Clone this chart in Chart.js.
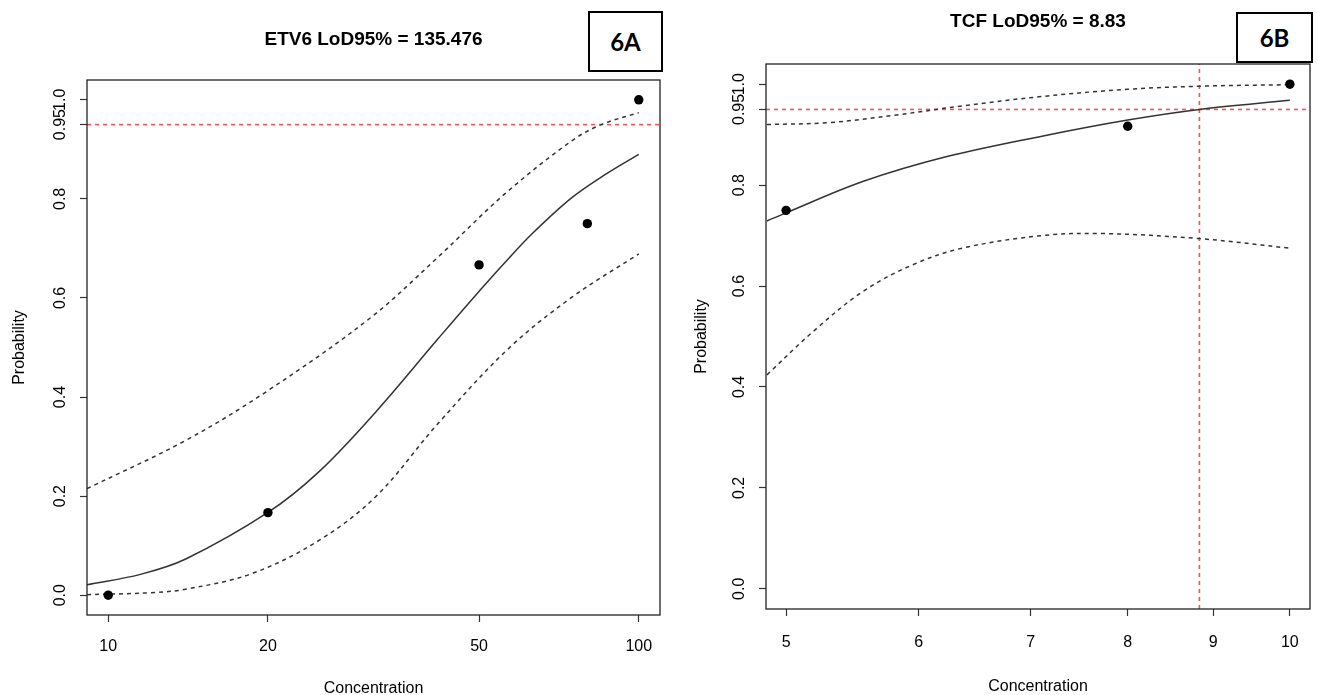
<!DOCTYPE html>
<html>
<head>
<meta charset="utf-8">
<title>LoD95% ETV6 dan TCF</title>
<script src="https://cdn.jsdelivr.net/npm/chart.js@4.4.1/dist/chart.umd.min.js"></script>
<style>
	body { margin: 0; background: #fff; }
	#halaman { position: relative; width: 1318px; height: 695px; overflow: hidden; }
	#halaman canvas { position: absolute; top: 0; }
	.label-panel {
		position: absolute;
		box-sizing: border-box;
		border: 2px solid #000;
		background: #fff;
		font: bold 24px Lato, "Liberation Sans", sans-serif;
		display: flex;
		align-items: center;
		justify-content: center;
	}
</style>
</head>
<body>
<div id="halaman">
	<!-- lebar canvas dibuat supaya judul tepat di tengah area plot -->
	<canvas id="grafikEtv6" width="747" height="698" style="left:0"></canvas>
	<canvas id="grafikTcf" width="716" height="698" style="left:680px"></canvas>
	<div class="label-panel" style="left:588px;top:11px;width:75px;height:61px">6A</div>
	<div class="label-panel" style="left:1236px;top:12px;width:77px;height:51px">6B</div>
</div>
<script>
// === DATA ===
// Sumbu probabilitas (dipakai kedua panel)
const probRange = [-0.04, 1.04];
const probTicks = [0, 0.2, 0.4, 0.6, 0.8, 0.95, 1.0];
const probTickLabels = ["0.0", "0.2", "0.4", "0.6", "0.8", "0.95", "1.0"];
const batasDeteksi = 0.95;

// Panel A: ETV6
const etv6Lod = 135.476;
const etv6XRange = [9.12, 109.65];
const etv6XTicks = [10, 20, 50, 100];
const etv6Conc = [10, 20, 50, 80, 100];
const etv6Hit = [0, 0.1667, 0.6667, 0.75, 1.0];
const etv6FitConc = [9.12, 11.5, 14, 20, 25, 32, 41.8, 48.3, 56, 63, 74.7, 87, 100];
const etv6Fit = [0.021, 0.042, 0.073, 0.167, 0.25, 0.371, 0.517, 0.595, 0.672, 0.73, 0.802, 0.851, 0.89];
const etv6UpperConc = [9.12, 14, 20, 31.3, 41.8, 55.9, 74.7, 85, 100];
const etv6Upper = [0.215, 0.3125, 0.413, 0.561, 0.682, 0.81, 0.917, 0.95, 0.974];
const etv6LowerConc = [9.12, 12, 14, 18.7, 25, 32, 41.8, 56.7, 74.7, 100];
const etv6Lower = [0.001, 0.005, 0.012, 0.044, 0.111, 0.2, 0.346, 0.497, 0.601, 0.689];

// Panel B: TCF
const tcfLod = 8.83;
const tcfXRange = [4.8637, 10.281];
const tcfXTicks = [5, 6, 7, 8, 9, 10];
const tcfConc = [5, 8, 10];
const tcfHit = [0.75, 0.9167, 1.0];
const tcfFitConc = [4.87, 5, 5.556, 6.23, 7.11, 8, 8.83, 10];
const tcfFit = [0.729, 0.745, 0.807, 0.856, 0.897, 0.929, 0.95, 0.968];
const tcfUpperConc = [4.87, 5.31, 5.82, 6.37, 7.08, 8, 8.83, 10];
const tcfUpper = [0.92, 0.924, 0.939, 0.957, 0.975, 0.99, 0.996, 0.999];
const tcfLowerConc = [4.87, 5.19, 5.556, 5.95, 6.37, 7.11, 7.72, 8.83, 10];
const tcfLower = [0.424, 0.51, 0.589, 0.642, 0.675, 0.7, 0.704, 0.694, 0.675];

const FONT = "'Liberation Sans', Arial, Helvetica, sans-serif";
const WARNA_GARIS = "#333";
const WARNA_MERAH = "rgba(255, 40, 40, 0.8)";

/**
 * Menggabungkan dua array menjadi titik {x, y}.
 */
function pasangan(xs, ys) {
	return xs.map((x, i) => ({ x: x, y: ys[i] }));
}

/**
 * Plugin kecil untuk menggambar kotak di sekeliling area plot.
 */
const bingkaiPlot = {
	id: "bingkaiPlot",
	afterDatasetsDraw(chart) {
		const { ctx, chartArea: a } = chart;
		ctx.save();
		ctx.strokeStyle = "#222";
		ctx.lineWidth = 1.3;
		ctx.strokeRect(a.left, a.top, a.right - a.left, a.bottom - a.top);
		ctx.restore();
	},
};

/**
 * Membuat satu panel kurva probit LoD.
 * @param {string} id - id elemen canvas
 * @param {object} p - data dan ukuran tata letak panel
 */
function buatPanel(id, p) {
	const el = document.getElementById(id);
	if (!el) return;

	const gayaKurva = {
		showLine: true,
		pointRadius: 0,
		borderWidth: 1.5,
		borderColor: WARNA_GARIS,
		tension: 0.35,
	};

	const datasets = [
		{
			label: "Hit rate",
			data: pasangan(p.conc, p.hit),
			showLine: false,
			pointRadius: 4.7,
			pointBackgroundColor: "#000",
			pointBorderColor: "#000",
			pointBorderWidth: 0,
		},
		{ label: "Fit", data: pasangan(p.fitConc, p.fit), ...gayaKurva },
		{ label: "Upper", data: pasangan(p.upperConc, p.upper), ...gayaKurva, borderDash: [4, 4] },
		{ label: "Lower", data: pasangan(p.lowerConc, p.lower), ...gayaKurva, borderDash: [4, 4] },
		{
			label: "95%",
			data: pasangan(p.xRange, [batasDeteksi, batasDeteksi]),
			showLine: true,
			pointRadius: 0,
			borderWidth: 1.6,
			borderColor: WARNA_MERAH,
			borderDash: [4, 4],
		},
	];

	// Garis vertikal LoD hanya jika masih di dalam rentang sumbu x
	if (p.lod >= p.xRange[0] && p.lod <= p.xRange[1]) {
		datasets.push({
			label: "LoD",
			data: pasangan([p.lod, p.lod], probRange),
			showLine: true,
			pointRadius: 0,
			borderWidth: 1.6,
			borderColor: WARNA_MERAH,
			borderDash: [4, 4],
		});
	}

	const gridTick = {
		drawOnChartArea: false,
		drawTicks: true,
		tickLength: 7,
		tickColor: WARNA_GARIS,
		tickWidth: 1.2,
	};

	new Chart(el, {
		type: "scatter",
		data: { datasets: datasets },
		options: {
			responsive: false,
			animation: false,
			devicePixelRatio: 1,
			layout: { padding: 0 },
			plugins: {
				legend: { display: false },
				tooltip: { enabled: false },
				title: {
					display: true,
					text: p.gen + " LoD95% = " + p.lod,
					color: "#000",
					font: { family: FONT, size: 19, weight: "bold" },
					padding: { top: p.judulAtas, bottom: p.judulBawah },
				},
			},
			scales: {
				x: {
					type: "logarithmic",
					min: p.xRange[0],
					max: p.xRange[1],
					afterFit: (s) => { s.height = p.tinggiX; },
					afterBuildTicks: (s) => { s.ticks = p.xTicks.map((v) => ({ value: v })); },
					ticks: {
						autoSkip: false,
						minRotation: 0,
						maxRotation: 0,
						padding: p.padTickX,
						color: "#000",
						font: { family: FONT, size: 16 },
						callback: (v) => String(v),
					},
					grid: gridTick,
					border: { display: false },
					title: {
						display: true,
						text: "Concentration",
						color: "#000",
						font: { family: FONT, size: 16 },
						padding: { top: 0, bottom: p.padJudulX },
					},
				},
				y: {
					type: "linear",
					min: probRange[0],
					max: probRange[1],
					afterFit: (s) => { s.width = p.lebarY; },
					afterBuildTicks: (s) => { s.ticks = probTicks.map((v) => ({ value: v })); },
					ticks: {
						autoSkip: false,
						minRotation: 90,
						maxRotation: 90,
						crossAlign: "center",
						padding: 3.5,
						color: "#000",
						font: { family: FONT, size: 16 },
						callback: (v, i) => probTickLabels[i],
					},
					grid: gridTick,
					border: { display: false },
					title: {
						display: true,
						text: "Probability",
						color: "#000",
						font: { family: FONT, size: 16 },
						padding: { top: p.padJudulY, bottom: 0 },
					},
				},
				// Sumbu kosong di kanan, hanya untuk menyeimbangkan lebar
				// supaya judul berada di tengah area plot
				kanan: {
					type: "linear",
					position: "right",
					min: probRange[0],
					max: probRange[1],
					afterFit: (s) => { s.width = p.padKanan; },
					ticks: { display: false },
					grid: { display: false },
					border: { display: false },
				},
			},
		},
		plugins: [bingkaiPlot],
	});
}

document.addEventListener("DOMContentLoaded", function () {
	buatPanel("grafikEtv6", {
		gen: "ETV6",
		lod: etv6Lod,
		xRange: etv6XRange,
		xTicks: etv6XTicks,
		conc: etv6Conc,
		hit: etv6Hit,
		fitConc: etv6FitConc,
		fit: etv6Fit,
		upperConc: etv6UpperConc,
		upper: etv6Upper,
		lowerConc: etv6LowerConc,
		lower: etv6Lower,
		padKanan: 87,
		lebarY: 87,
		tinggiX: 83,
		judulAtas: 28.6,
		judulBawah: 28.6,
		padTickX: 15,
		padJudulX: 0,
		padJudulY: 10,
	});

	buatPanel("grafikTcf", {
		gen: "TCF",
		lod: tcfLod,
		xRange: tcfXRange,
		xTicks: tcfXTicks,
		conc: tcfConc,
		hit: tcfHit,
		fitConc: tcfFitConc,
		fit: tcfFit,
		upperConc: tcfUpperConc,
		upper: tcfUpper,
		lowerConc: tcfLowerConc,
		lower: tcfLower,
		padKanan: 86,
		lebarY: 86,
		tinggiX: 89,
		judulAtas: 10.6,
		judulBawah: 30.6,
		padTickX: 17,
		padJudulX: 2,
		padJudulY: 12,
	});
});
</script>
</body>
</html>
